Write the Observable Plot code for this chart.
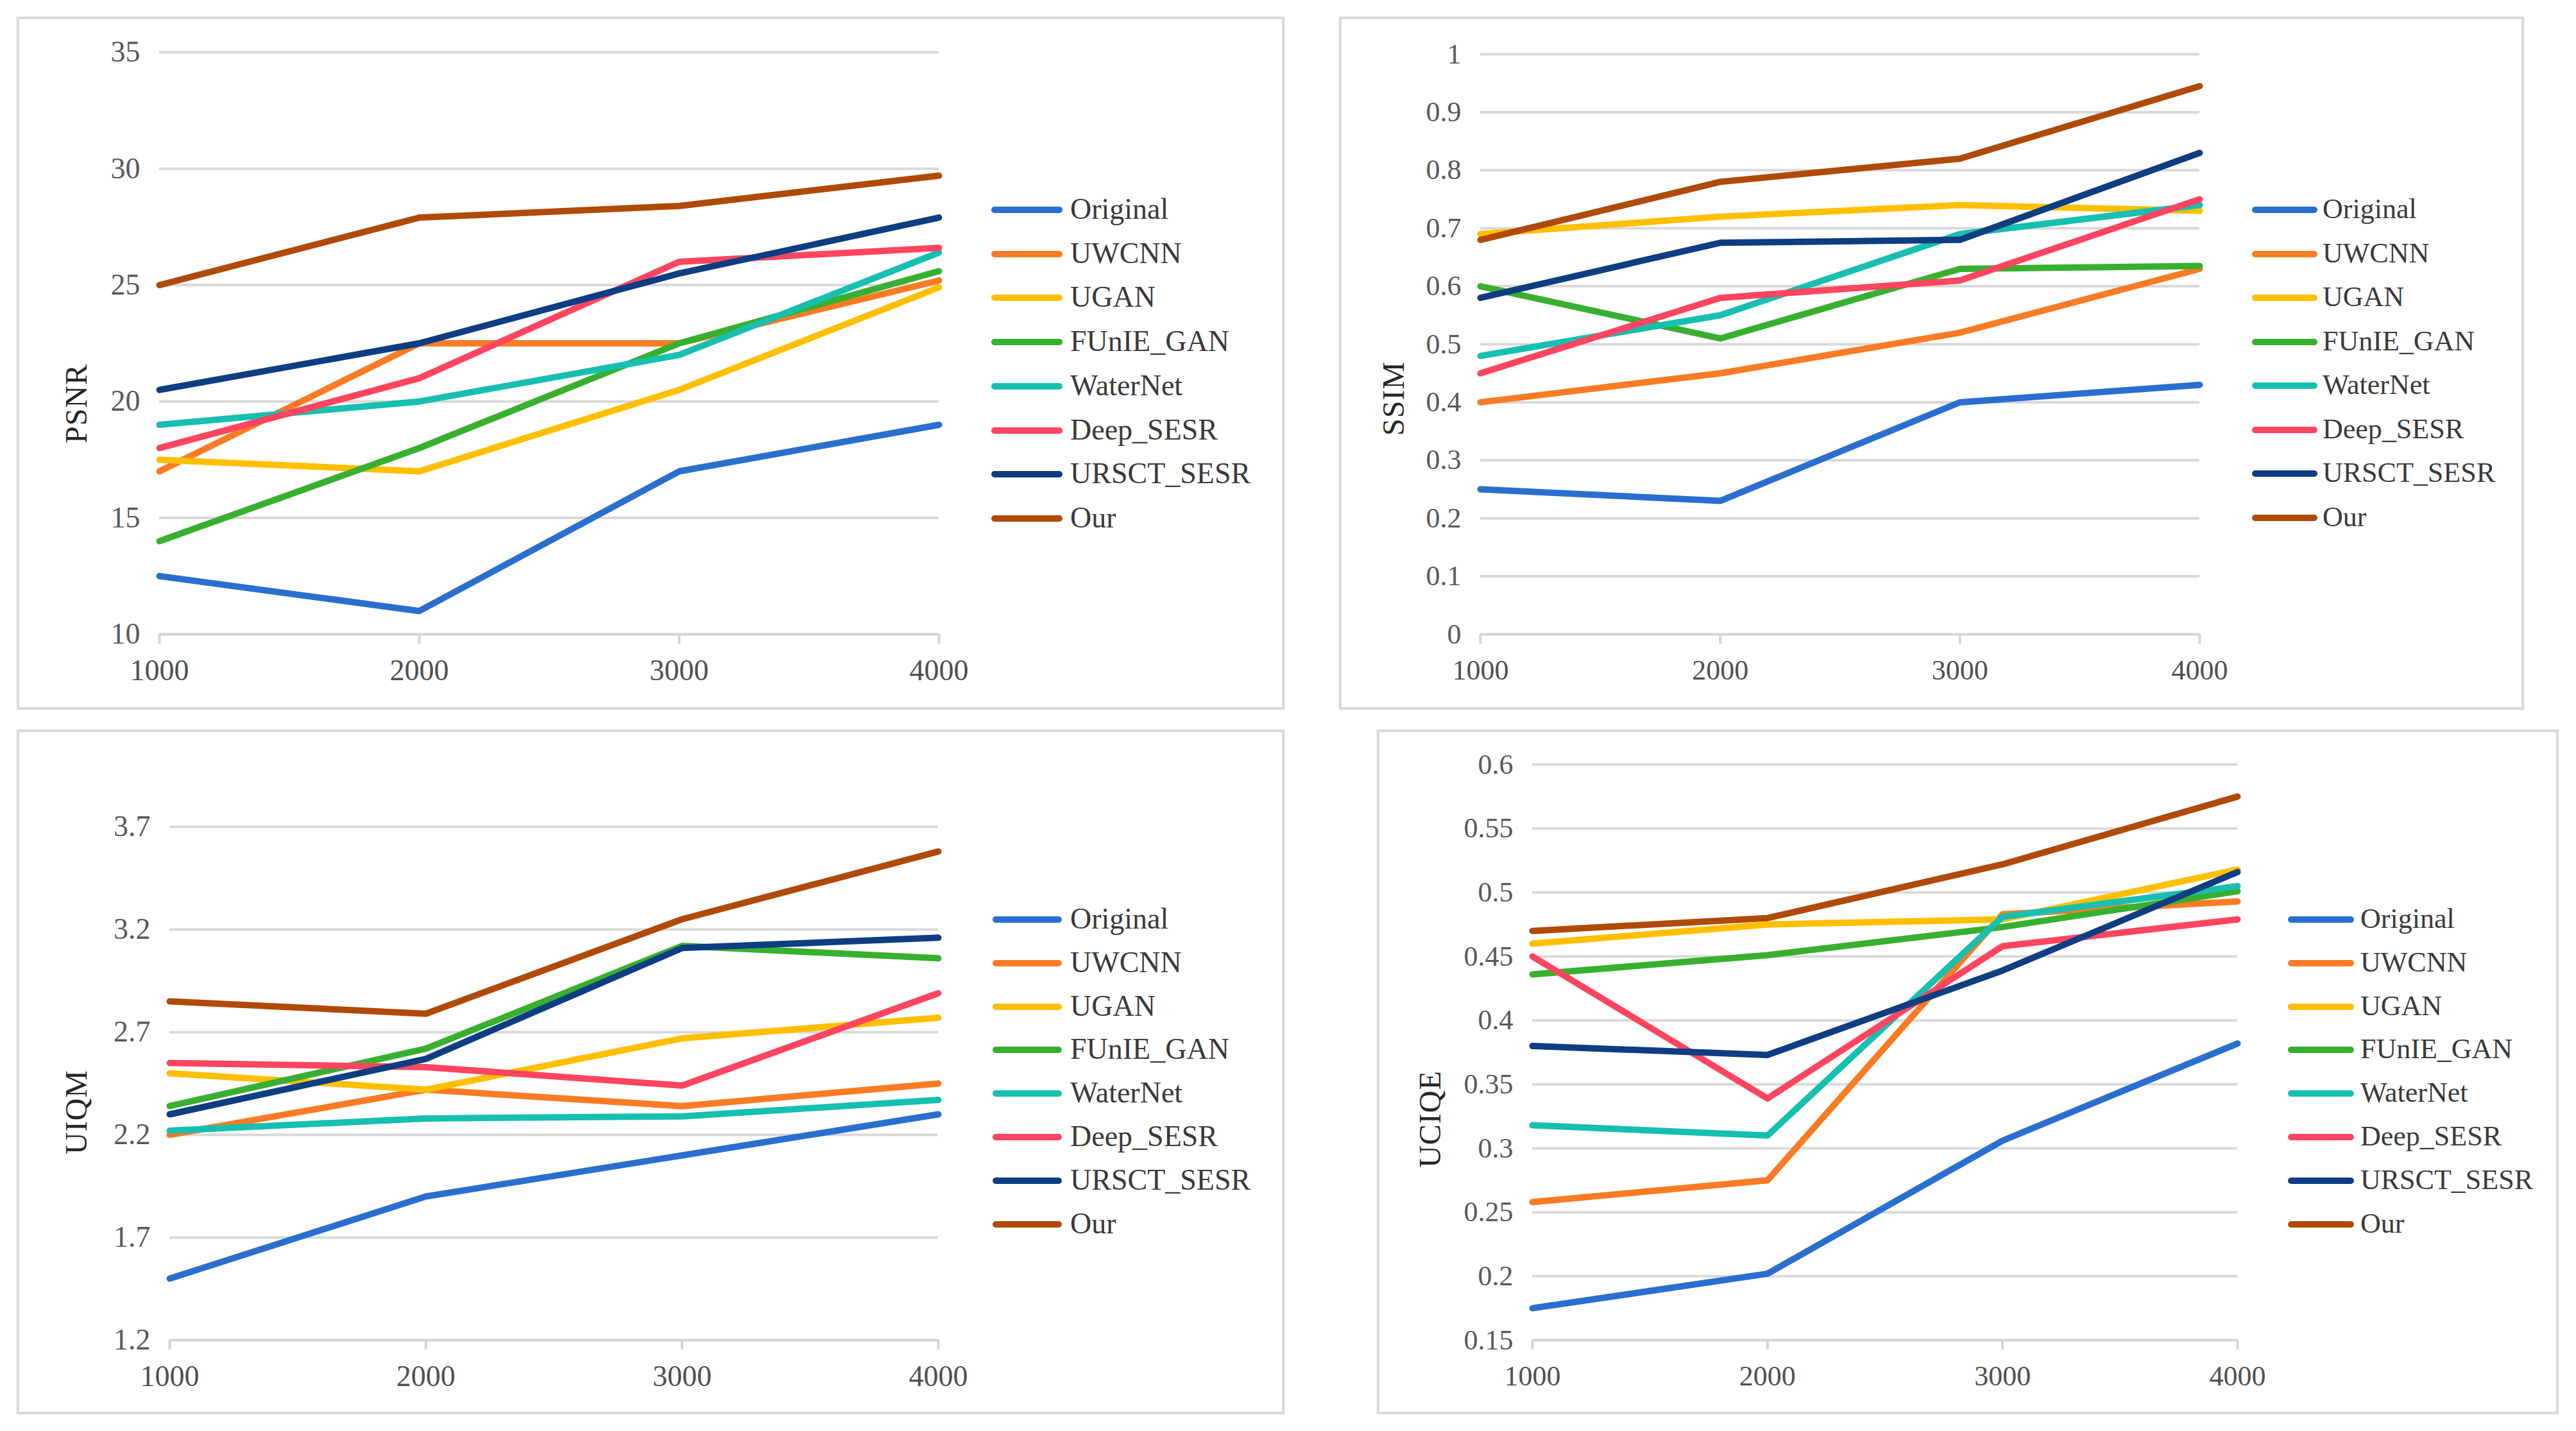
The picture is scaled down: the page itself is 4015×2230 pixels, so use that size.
<!DOCTYPE html>
<html>
<head>
<meta charset="utf-8">
<script src="https://cdn.jsdelivr.net/npm/d3@7"></script>
<script src="https://cdn.jsdelivr.net/npm/@observablehq/plot@0.6"></script>
<style>
  html, body { margin: 0; padding: 0; background: #ffffff; }
  body { width: 4015px; height: 2230px; position: relative; overflow: hidden; font-family: "Liberation Serif", "Times New Roman", serif; }
  .panel { position: absolute; }
  .frame { position: absolute; left: 0; top: 0; right: 0; bottom: 0; border: 4px solid #d9d9d9; box-sizing: border-box; pointer-events: none; box-shadow: 0 0 3px rgba(0,0,0,0.08); }
  .panel svg { position: absolute; left: 0; top: 0; }
  .ylabel { position: absolute; font-size: 48px; color: #262626; white-space: nowrap; transform: translate(-50%, -50%) rotate(-90deg); letter-spacing: 1px; }
  .sw { position: absolute; height: 10px; border-radius: 5px; transform: translateY(-50%); }
  .lt { position: absolute; color: #3a3a3a; white-space: nowrap; transform: translateY(-52%); line-height: 1; }
</style>
</head>
<body>
<script>
// ---- data ----
const xValues = [1000, 2000, 3000, 4000];
const methods = ["Original", "UWCNN", "UGAN", "FUnIE_GAN", "WaterNet", "Deep_SESR", "URSCT_SESR", "Our"];
const colors = ["#2a6fd0", "#f97c24", "#ffbf00", "#38b02f", "#16bfb0", "#ff4560", "#0e3d82", "#b04a08"];

// values per method (order as in methods), per x value
const psnrValues = [
  [12.5, 11.0, 17.0, 19.0],
  [17.0, 22.5, 22.5, 25.2],
  [17.5, 17.0, 20.5, 24.9],
  [14.0, 18.0, 22.5, 25.6],
  [19.0, 20.0, 22.0, 26.4],
  [18.0, 21.0, 26.0, 26.6],
  [20.5, 22.5, 25.5, 27.9],
  [25.0, 27.9, 28.4, 29.7]
];
const ssimValues = [
  [0.25, 0.23, 0.40, 0.43],
  [0.40, 0.45, 0.52, 0.63],
  [0.69, 0.72, 0.74, 0.73],
  [0.60, 0.51, 0.63, 0.635],
  [0.48, 0.55, 0.69, 0.74],
  [0.45, 0.58, 0.61, 0.75],
  [0.58, 0.675, 0.68, 0.83],
  [0.68, 0.78, 0.82, 0.945]
];
const uiqmValues = [
  [1.50, 1.90, 2.10, 2.30],
  [2.20, 2.42, 2.34, 2.45],
  [2.50, 2.42, 2.67, 2.77],
  [2.34, 2.62, 3.12, 3.06],
  [2.22, 2.28, 2.29, 2.37],
  [2.55, 2.53, 2.44, 2.89],
  [2.30, 2.57, 3.11, 3.16],
  [2.85, 2.79, 3.25, 3.58]
];
const uciqeValues = [
  [0.175, 0.202, 0.306, 0.382],
  [0.258, 0.275, 0.483, 0.493],
  [0.460, 0.475, 0.479, 0.518],
  [0.436, 0.451, 0.473, 0.501],
  [0.318, 0.310, 0.481, 0.505],
  [0.450, 0.339, 0.458, 0.479],
  [0.380, 0.373, 0.439, 0.516],
  [0.470, 0.480, 0.522, 0.575]
];

const psnrTicks = [10, 15, 20, 25, 30, 35];
const ssimTicks = [0, 0.1, 0.2, 0.3, 0.4, 0.5, 0.6, 0.7, 0.8, 0.9, 1];
const uiqmTicks = [1.2, 1.7, 2.2, 2.7, 3.2, 3.7];
const uciqeTicks = [0.15, 0.2, 0.25, 0.3, 0.35, 0.4, 0.45, 0.5, 0.55, 0.6];

const metricNames = ["PSNR", "SSIM", "UIQM", "UCIQE"];

// ---- layout ----
const panels = [
  { name: metricNames[0], values: psnrValues, ticks: psnrTicks, fs: 46,
    frame: [26, 26, 2002, 1106], margins: [55, 539, 118, 222],
    ylabel: [118, 629], sw: [1545, 1656], tx: 1668, ly0: 327, ldy: 68.7 },
  { name: metricNames[1], values: ssimValues, ticks: ssimTicks, fs: 44,
    frame: [2087, 26, 3934, 1106], margins: [58, 506, 118, 220],
    ylabel: [2171, 621], sw: [3510, 3612], tx: 3620, ly0: 327, ldy: 68.5 },
  { name: metricNames[2], values: uiqmValues, ticks: uiqmTicks, fs: 46,
    frame: [26, 1137, 2002, 2204], margins: [151, 540, 116, 238],
    ylabel: [118, 1733], sw: [1547, 1655], tx: 1668, ly0: 1433, ldy: 67.8 },
  { name: metricNames[3], values: uciqeValues, ticks: uciqeTicks, fs: 44,
    frame: [2146, 1137, 3988, 2204], margins: [54, 501, 116, 242],
    ylabel: [2228, 1744], sw: [3566, 3669], tx: 3679, ly0: 1433, ldy: 67.8 }
];

for (const p of panels) {
  const [l, t, r, b] = p.frame;
  const W = r - l, H = b - t;
  const rows = [];
  methods.forEach((m, i) => xValues.forEach((x, j) => rows.push({ method: m, x, y: p.values[i][j] })));
  const yMin = p.ticks[0], yMax = p.ticks[p.ticks.length - 1];

  const chart = Plot.plot({
    width: W, height: H,
    marginTop: p.margins[0], marginRight: p.margins[1], marginBottom: p.margins[2], marginLeft: p.margins[3],
    style: { fontFamily: '"Liberation Serif", "Times New Roman", serif', fontSize: p.fs + "px", background: "transparent", overflow: "visible" },
    x: { domain: [1000, 4000], label: null },
    y: { domain: [yMin, yMax], label: null },
    color: { domain: methods, range: colors },
    marks: [
      Plot.gridY(p.ticks.slice(1), { stroke: "#d9d9d9", strokeOpacity: 1, strokeWidth: 4 }),
      Plot.ruleY([yMin], { stroke: "#d4d4d4", strokeWidth: 4 }),
      Plot.axisX(xValues, { tickSize: 15, tickPadding: 24, stroke: "#d4d4d4", strokeWidth: 4, fill: "#505050", tickFormat: d => String(d), fontSize: p.fs }),
      Plot.axisY(p.ticks, { tickSize: 0, tickPadding: 30, fill: "#595959", tickFormat: d => String(d), fontSize: p.fs }),
      Plot.line(rows, { x: "x", y: "y", z: "method", stroke: "method", strokeWidth: 10, strokeLinecap: "round", strokeLinejoin: "round" })
    ]
  });

  const div = document.createElement("div");
  div.className = "panel";
  div.style.left = l + "px"; div.style.top = t + "px";
  div.style.width = W + "px"; div.style.height = H + "px";
  div.appendChild(chart);
  const fr = document.createElement("div");
  fr.className = "frame";
  div.appendChild(fr);
  document.body.appendChild(div);

  const yl = document.createElement("div");
  yl.className = "ylabel";
  yl.textContent = p.name;
  yl.style.left = p.ylabel[0] + "px"; yl.style.top = p.ylabel[1] + "px";
  document.body.appendChild(yl);

  methods.forEach((m, i) => {
    const y = p.ly0 + i * p.ldy;
    const sw = document.createElement("div");
    sw.className = "sw";
    sw.style.left = p.sw[0] + "px"; sw.style.width = (p.sw[1] - p.sw[0]) + "px";
    sw.style.top = y + "px"; sw.style.background = colors[i];
    document.body.appendChild(sw);
    const tx = document.createElement("div");
    tx.className = "lt";
    tx.style.fontSize = p.fs + "px";
    tx.textContent = m;
    tx.style.left = p.tx + "px"; tx.style.top = y + "px";
    document.body.appendChild(tx);
  });
}
</script>
</body>
</html>
